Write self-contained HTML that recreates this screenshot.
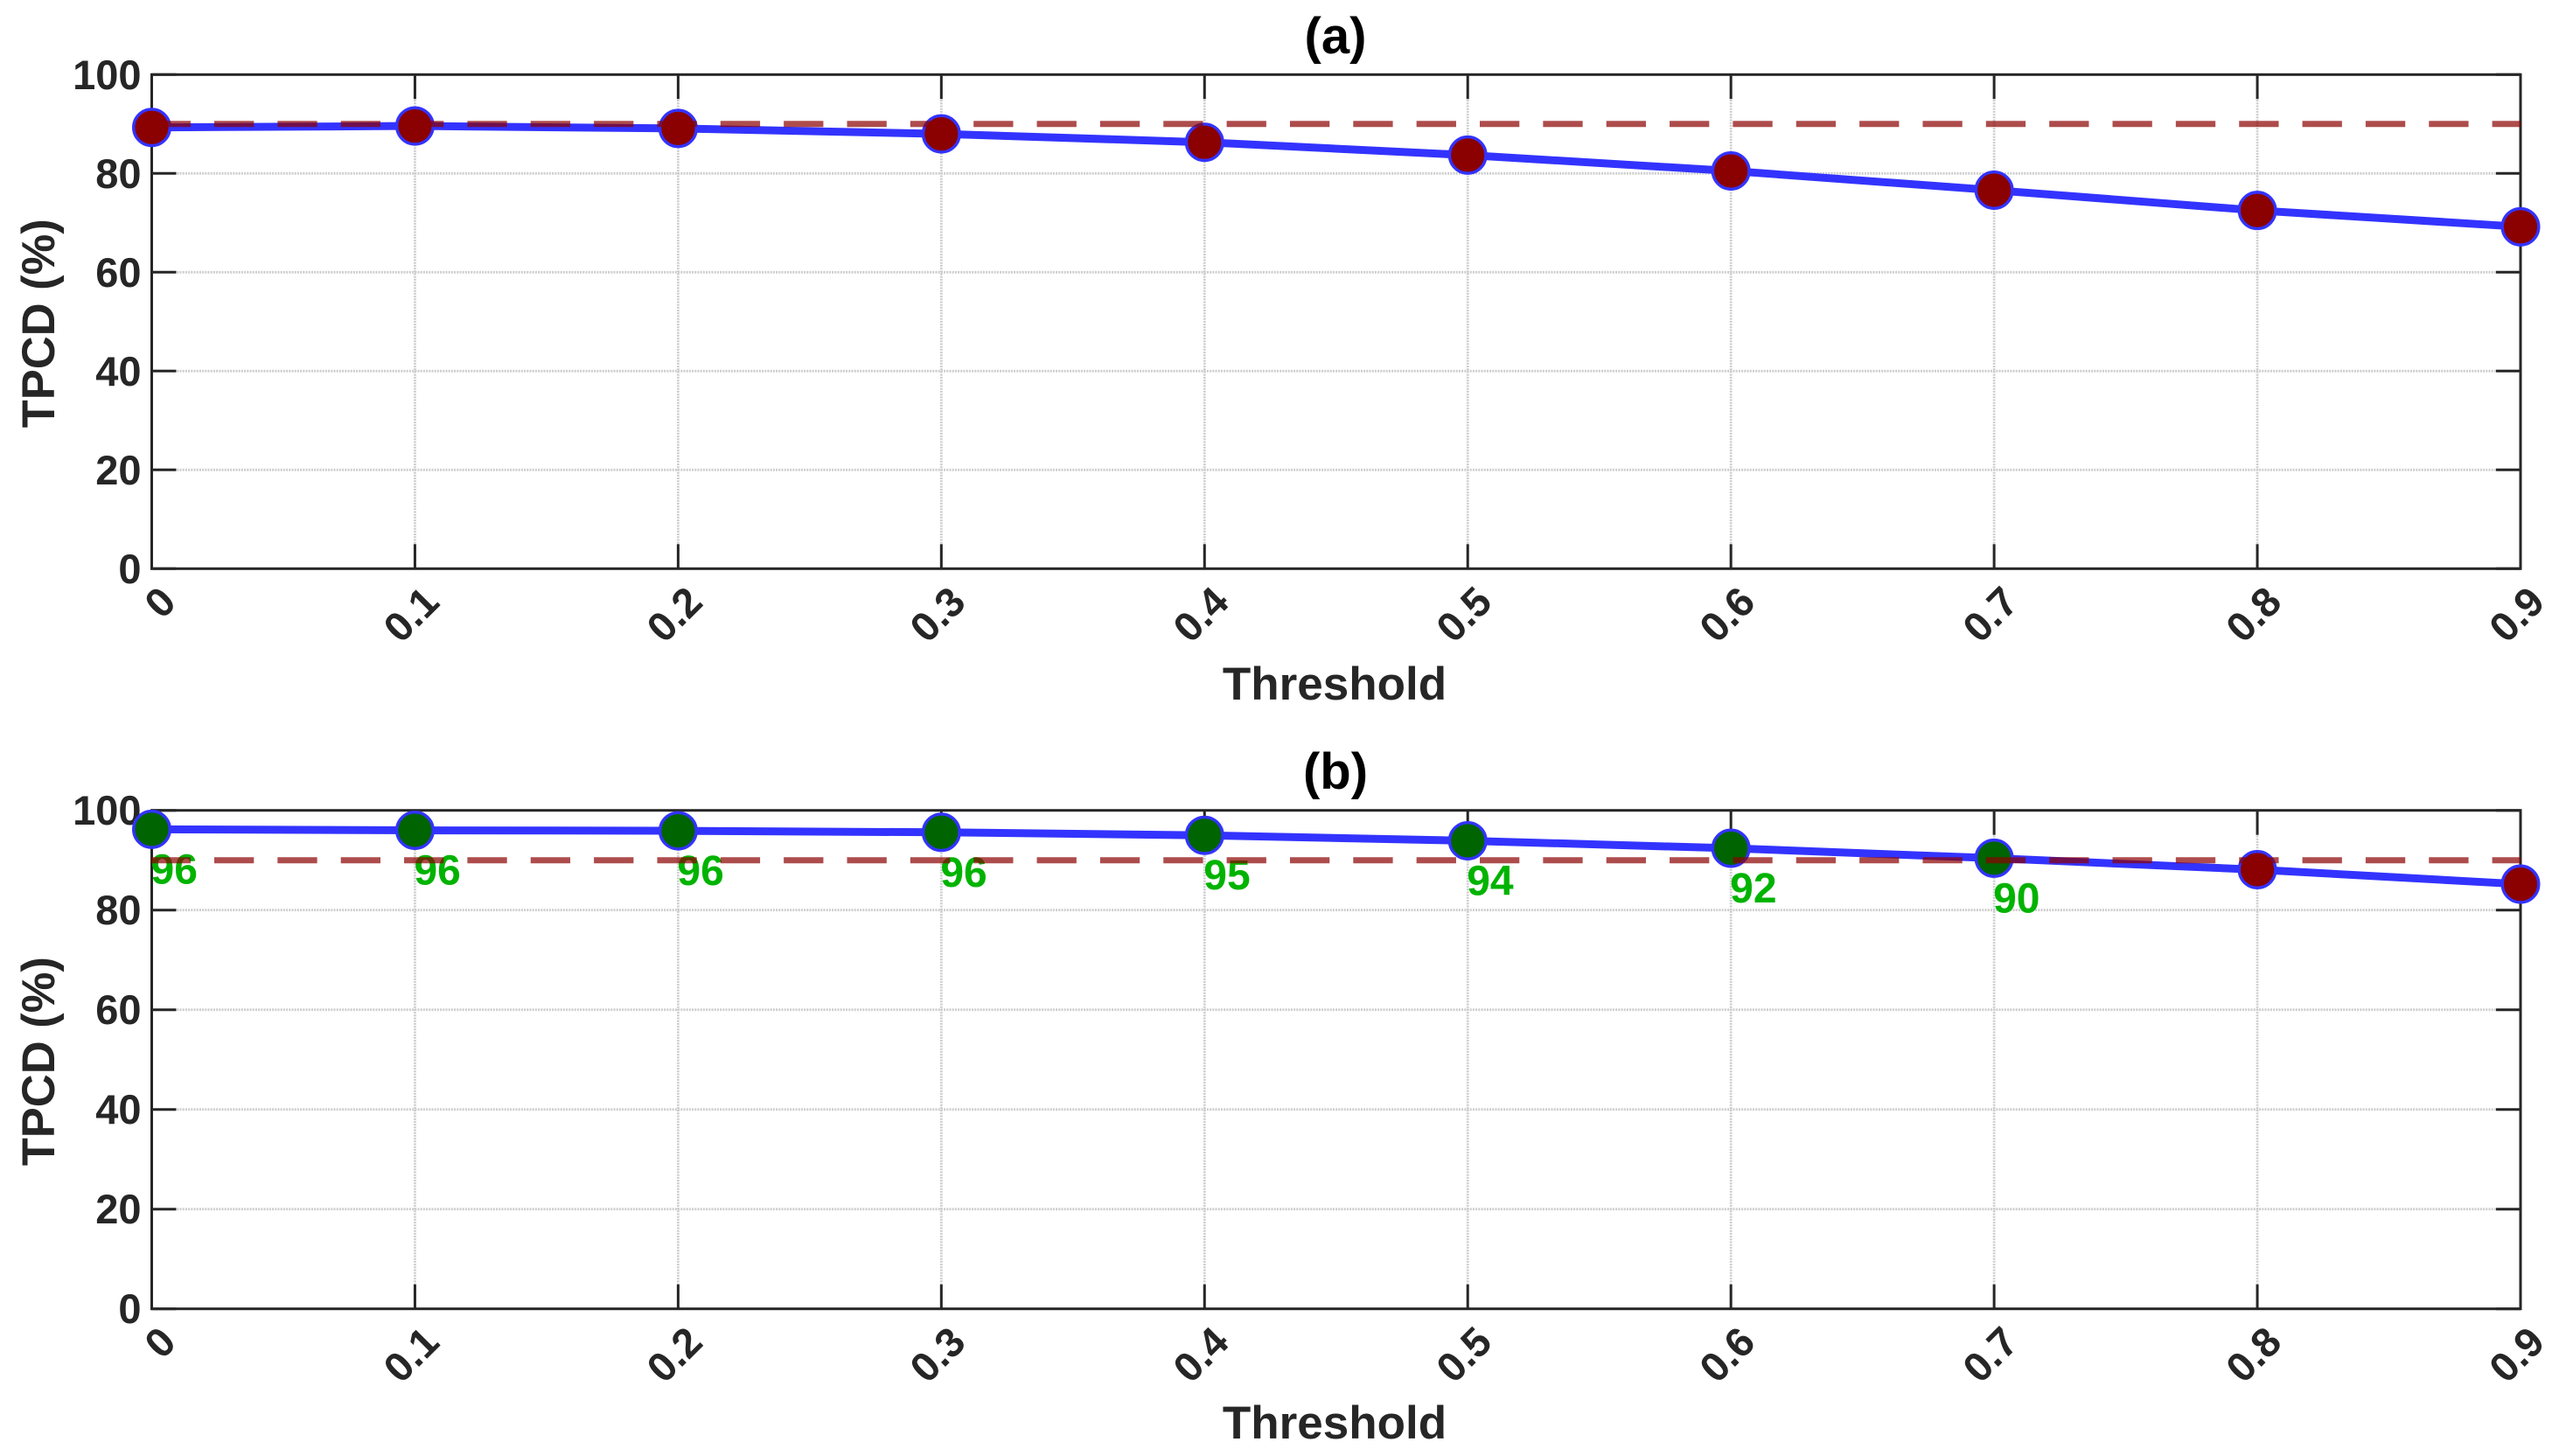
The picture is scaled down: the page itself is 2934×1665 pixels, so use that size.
<!DOCTYPE html>
<html lang="en">
<head>
<meta charset="utf-8">
<title>TPCD vs Threshold</title>
<style>
html,body{margin:0;padding:0;background:#fff;}
#chart{display:block;width:2934px;height:1665px;font-family:"Liberation Sans",Arial,sans-serif;font-weight:bold;}
</style>
</head>
<body>
<svg id="chart" xmlns="http://www.w3.org/2000/svg" width="2934" height="1665" viewBox="0 0 2934 1665"></svg>
<script>
const thresholds = [0, 0.1, 0.2, 0.3, 0.4, 0.5, 0.6, 0.7, 0.8, 0.9];
const xTickLabels = ['0', '0.1', '0.2', '0.3', '0.4', '0.5', '0.6', '0.7', '0.8', '0.9'];
const yTicks = [0, 20, 40, 60, 80, 100];
const tpcdA = [89.3, 89.6, 89.1, 88.0, 86.3, 83.7, 80.5, 76.6, 72.5, 69.2];
const tpcdB = [96.2, 96.0, 95.9, 95.6, 95.0, 93.9, 92.4, 90.4, 88.1, 85.2];
const referenceLevel = [90];

const NS = 'http://www.w3.org/2000/svg';
const svg = document.getElementById('chart');
const INK = '#262626';
const GRID = '#cdcdcd';
const LEFT = 173.5;
const RIGHT = 2882;
const TICK = 28;

function make(tag, attrs, parent) {
  const el = document.createElementNS(NS, tag);
  for (const k in attrs) el.setAttribute(k, attrs[k]);
  parent.appendChild(el);
  return el;
}
function xScale(v) {
  return LEFT + (v - thresholds[0]) / (thresholds[thresholds.length - 1] - thresholds[0]) * (RIGHT - LEFT);
}
function yScaleFor(top, bottom) {
  return function (v) { return bottom - v / 100 * (bottom - top); };
}

function drawPanel(prefix, title, values, top, bottom, labelled, offsets) {
  const y = yScaleFor(top, bottom);
  const g = make('g', {}, svg);
  
  

  // grid
  yTicks.forEach(function (t) {
    if (t === 0 || t === 100) return;
    const line = make('line', {x1: LEFT, x2: RIGHT, y1: y(t), y2: y(t), stroke: GRID, 'stroke-width': 2.8, 'stroke-dasharray': '2 1.2'}, g);
    
    
  });
  thresholds.forEach(function (t, i) {
    if (i === 0 || i === thresholds.length - 1) return;
    const line = make('line', {x1: xScale(t), x2: xScale(t), y1: top, y2: bottom, stroke: GRID, 'stroke-width': 2.8, 'stroke-dasharray': '2 1.2'}, g);
    
    
  });

  // y ticks and labels
  yTicks.forEach(function (t) {
    const tick = make('path', {d: 'M' + LEFT + ' ' + y(t) + 'h' + TICK + 'M' + RIGHT + ' ' + y(t) + 'h' + (-TICK), stroke: INK, 'stroke-width': 3, fill: 'none'}, g);
    
    
    const label = make('text', {x: 161.5, y: y(t) + 16.5, 'text-anchor': 'end', 'font-size': 47, fill: INK}, g);
    label.textContent = String(t);
    
    
  });

  // x ticks and labels
  thresholds.forEach(function (t, i) {
    const px = xScale(t);
    const tick = make('path', {d: 'M' + px + ' ' + bottom + 'v' + (-TICK) + 'M' + px + ' ' + top + 'v' + TICK, stroke: INK, 'stroke-width': 3, fill: 'none'}, g);
    
    
    const label = make('text', {x: 0, y: 16.5, 'text-anchor': 'end', 'font-size': 47, fill: INK, transform: 'translate(' + (px + 18.5) + ' ' + (bottom + 29) + ') rotate(-45)'}, g);
    label.textContent = xTickLabels[i];
    
    
  });

  // axes box
  const box = make('rect', {x: LEFT, y: top, width: RIGHT - LEFT, height: bottom - top, fill: 'none', stroke: INK, 'stroke-width': 3}, g);
  
  

  // series line
  const pts = values.map(function (v, i) { return xScale(thresholds[i]) + ',' + y(v); }).join(' ');
  const line = make('polyline', {points: pts, fill: 'none', stroke: '#3333ff', 'stroke-width': 9, 'stroke-linejoin': 'round'}, g);
  
  

  // markers
  values.forEach(function (v, i) {
    const pass = v >= referenceLevel[0];
    const dot = make('circle', {cx: xScale(thresholds[i]), cy: y(v), r: 20.8, fill: (pass && labelled) ? '#006400' : '#8b0000', stroke: '#3333ff', 'stroke-width': 3.4}, g);
    
    
  });

  // value labels
  if (labelled) {
    values.forEach(function (v, i) {
      if (v < referenceLevel[0]) return;
      const label = make('text', {x: xScale(thresholds[i]) - 1, y: y(v) + 62, 'font-size': 48, fill: '#00b300'}, g);
      label.textContent = v.toFixed(0);
      
      
    });
  }

  // reference line
  const ref = make('line', {x1: 172.65, x2: RIGHT, y1: y(referenceLevel[0]), y2: y(referenceLevel[0]), stroke: '#8b0000', 'stroke-opacity': 0.7, 'stroke-width': 7, 'stroke-dasharray': '45.3 27.05'}, g);
  
  

  // titles
  const ttl = make('text', {x: 1527, y: offsets.title, 'text-anchor': 'middle', 'font-size': 58, fill: '#000'}, g);
  ttl.textContent = title;
  
  

  const xTitle = make('text', {x: 1526, y: offsets.xTitle, 'text-anchor': 'middle', 'font-size': 53, fill: INK}, g);
  xTitle.textContent = 'Threshold';
  
  

  const midY = (top + bottom) / 2 + 2;
  const yTitle = make('text', {x: 0, y: 0, 'text-anchor': 'middle', 'font-size': 52.5, fill: INK, transform: 'translate(62 ' + midY + ') rotate(-90)'}, g);
  yTitle.textContent = 'TPCD (%)';
  
  
}

drawPanel('panel-a', '(a)', tpcdA, 85.3, 650.3, false, {title: 61, xTitle: 800});
drawPanel('panel-b', '(b)', tpcdB, 926.7, 1496.7, true, {title: 902, xTitle: 1645});
</script>
</body>
</html>
